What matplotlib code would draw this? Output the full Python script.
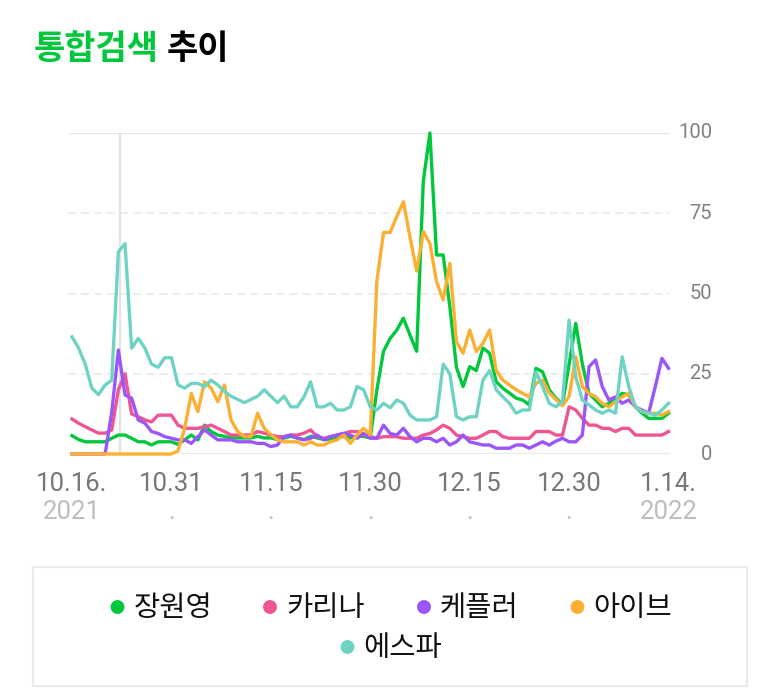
import matplotlib
matplotlib.use('Agg')
import matplotlib.pyplot as plt
from matplotlib.patches import Rectangle
from matplotlib.transforms import blended_transform_factory

plt.rcParams['font.family'] = ['Roboto', 'Noto Sans CJK KR', 'DejaVu Sans']

# daily values 2021.10.16 - 2022.01.14 (91 days)
names = ['장원영', '카리나', '케플러', '아이브', '에스파']
colors = ['#00c73c', '#ef5493', '#9a55fb', '#fbb033', '#6fd3c4']

jang = [5.7, 4.5, 3.8, 3.8, 3.8, 3.8, 4.9, 5.9, 5.9, 4.9,
        3.8, 3.8, 2.8, 3.8, 3.8, 3.8, 3.0, 4.4, 5.9, 4.4,
        9.0, 7.0, 5.9, 5.5, 5.0, 5.0, 5.0, 5.0, 5.5, 5.0,
        5.0, 4.5, 5.0, 5.5, 5.0, 4.5, 5.5, 5.0, 4.5, 4.5,
        5.0, 5.5, 5.0, 5.5, 5.5, 5.0, 20, 32, 36, 38.6,
        42.3, 37, 32, 85, 100, 62, 62, 46, 27, 21,
        27.2, 26, 33, 31.4, 22.5, 20.5, 19, 17.4, 16.8, 15.3,
        26.7, 25.6, 20, 17.4, 15.5, 28, 40.7, 28, 18.9, 16.8,
        14.7, 15.8, 17.4, 18.9, 18.4, 14.7, 12.7, 11.1, 11.1, 11.1,
        12.7]
karina = [10.9, 9.6, 8.5, 7.5, 6.5, 6.5, 7.5, 20, 25, 12.5,
          11.6, 10.6, 10, 12.1, 12.1, 12.1, 9, 8, 8, 8,
          8.5, 9, 8, 7, 5.9, 5.9, 5.9, 5.9, 7, 6.5,
          5.9, 5.4, 5.4, 5.9, 5.9, 6.5, 7.5, 5.4, 4.9, 5.4,
          5.9, 6.4, 7, 7, 6, 5.4, 4.9, 5.4, 5.4, 5.4,
          4.9, 4.9, 4.9, 5.9, 6.4, 7.5, 9, 8, 5.9, 5.4,
          4.9, 4.9, 5.9, 7, 7, 5.4, 4.9, 4.9, 4.9, 4.9,
          7, 7, 7, 5.9, 5.9, 14.7, 13.7, 11.1, 9, 9,
          8, 8, 7, 8, 8, 5.9, 5.9, 5.9, 5.9, 5.9,
          7]
kep1er = [0, 0, 0, 0, 0, 0, 13, 32.4, 18.4, 17.4,
          10.6, 9.6, 7, 6.4, 5.4, 4.9, 4.4, 4.4, 3.3, 5.4,
          7.5, 5.9, 4.4, 4.4, 4.4, 3.8, 3.8, 3.8, 3.3, 3.3,
          2.3, 2.8, 5.4, 5.9, 4.9, 4.4, 4.9, 5.9, 4.4, 5.4,
          5.9, 6.4, 5.9, 4.9, 6.4, 4.9, 4.9, 9, 6.4, 5.9,
          8, 5.4, 3.8, 4.9, 4.9, 3.8, 4.9, 2.8, 3.8, 5.9,
          3.8, 3.3, 2.8, 2.8, 1.8, 1.8, 1.8, 2.8, 2.8, 1.8,
          2.8, 3.8, 2.8, 4, 4.9, 3.8, 3.8, 5.9, 27.2, 29.3,
          21, 16.8, 17.8, 15.8, 16.8, 14.7, 13.7, 12.7, 21, 29.8,
          26.7]
ive = [0, 0, 0, 0, 0, 0, 0, 0, 0, 0,
       0, 0, 0, 0, 0, 0, 1, 8, 18.9, 13.2,
       22.5, 20.5, 16.3, 21.5, 10.6, 7, 5.4, 5.4, 12.7, 8,
       6, 4.4, 3.8, 3.8, 3.8, 2.8, 3.8, 2.8, 2.8, 3.8,
       4.4, 5.9, 3.3, 5.9, 8, 6, 54, 69, 69, 74,
       78.6, 67.5, 57, 69.3, 65.6, 53.7, 48, 59.4, 35, 31.4,
       38.6, 31.9, 34.5, 38.6, 26, 23, 21.5, 20, 18.9, 17.8,
       22, 23, 19, 17, 15, 18, 30.3, 21, 18.9, 17.8,
       15.8, 14.7, 16.3, 17.8, 18.9, 14.7, 13.2, 12.7, 12.7, 12.1,
       13.2]
aespa = [36.5, 33, 28, 20.5, 18.5, 21.5, 23, 63, 65.5, 33,
         36, 33, 28, 27, 30, 30, 21.5, 20.5, 22, 22,
         21, 23, 21.5, 19.5, 18, 17, 16, 17, 18, 20,
         18, 16, 18, 14.7, 14.7, 17.8, 22.5, 14.7, 14.7, 15.8,
         13.7, 13.7, 14.7, 21, 20, 14.7, 13.7, 15.8, 14.4, 16.8,
         15.8, 12.1, 10.6, 10.6, 10.6, 11.6, 28, 25, 11.6, 10.6,
         11.6, 11.6, 23, 26, 20, 17.8, 15.8, 12.7, 13.7, 13.7,
         25.6, 21, 15.8, 14.7, 16.3, 41.7, 24, 16.8, 15.3, 13.7,
         12.7, 13.7, 12.7, 30.3, 21, 14.7, 13.2, 12.7, 12.1, 13.7,
         15.8]
series = [jang, karina, kep1er, ive, aespa]

tick_days = [0, 15, 30, 45, 60, 75, 90]
tick_top = ['10.16.', '10.31', '11.15', '11.30', '12.15', '12.30', '1.14.']
tick_bottom = ['2021', '.', '.', '.', '.', '.', '2022']
y_ticks = [0, 25, 50, 75, 100]
hover_day = 7

W, H = 779, 692
fig = plt.figure(figsize=(W / 100, H / 100), dpi=100)
ax = fig.add_axes([68 / W, (H - 454) / H, 602 / W, 321 / H])
ax.set_xlim(-0.6, 90.22)
ax.set_ylim(0, 100)
ax.axis('off')

# grid
ax.axhline(100, color='#e4e4e4', lw=1.6, zorder=0)
ax.axhline(0, color='#e8e8ee', lw=1.6, zorder=0)
for v in [25, 50, 75]:
    ax.axhline(v, color='#ececec', lw=1.4, dashes=(4.1, 2.6), zorder=0)
ax.axvline(hover_day + 0.2, color='#e2e2e2', lw=1.6, zorder=0)

days = list(range(len(jang)))
for vals, c in zip(series, colors):
    ax.plot(days, vals, color=c, lw=2.4, solid_joinstyle='round',
            clip_on=False)

# x labels (two lines)
tr = blended_transform_factory(ax.transData, fig.transFigure)
for d, t1, t2 in zip(tick_days, tick_top, tick_bottom):
    ax.text(d, 1 - 484 / H, t1, transform=tr, ha='center', va='center',
            fontsize=18.5, color='#777777')
    ax.text(d, 1 - 512 / H, t2, transform=tr, ha='center', va='center',
            fontsize=18.5, color='#bdbdbd')

# y labels on the right
tr2 = blended_transform_factory(fig.transFigure, ax.transData)
for v in y_ticks:
    ax.text(712 / W, v, str(v), transform=tr2, ha='right', va='center',
            fontsize=14.5, color='#808080')

# overlay in pixel coordinates for title and legend
ov = fig.add_axes([0, 0, 1, 1], zorder=-1)
ov.set_xlim(0, W)
ov.set_ylim(H, 0)
ov.axis('off')

ov.text(34, 48, '통합검색', fontsize=24.5, fontweight='bold', color='#00c73c',
        va='center', ha='left', family=['Noto Sans CJK KR'])
ov.text(167, 48, '추이', fontsize=24.5, fontweight='bold', color='black',
        va='center', ha='left', family=['Noto Sans CJK KR'])

ov.add_patch(Rectangle((33, 567), 714, 119, facecolor='white',
                       edgecolor='#ebebeb', lw=1.6))
leg_pos = [(117.5, 607), (270, 607), (424, 607), (577.5, 607), (347.5, 647)]
for (x, y), name, c in zip(leg_pos, names, colors):
    ov.scatter([x], [y], s=100, color=c, edgecolors='none')
    ov.text(x + 16, y + 1, name, fontsize=20.5, color='#111111',
            va='center', ha='left', family=['Noto Sans CJK KR'])

plt.savefig('out.png', dpi=100)
